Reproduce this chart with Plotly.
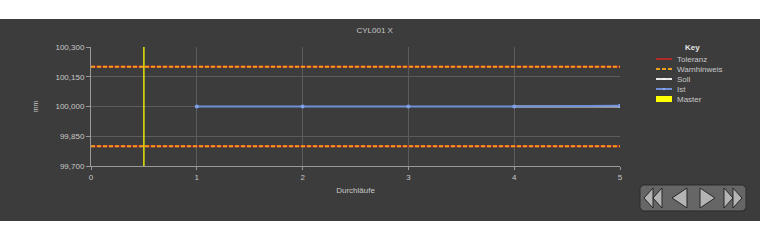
import plotly.graph_objects as go

# ---- data ----
runs = [1, 2, 3, 4, 5]
ist = [100.000, 100.000, 100.000, 100.000, 100.004]
soll_x = [4, 5]
soll = [100.000, 100.000]
tol_upper = 100.200
tol_lower = 99.800
warn_upper = 100.200
warn_lower = 99.800
master_x = 0.5
x_range = [0, 5]
y_range = [99.700, 100.300]
y_ticks = [99.700, 99.850, 100.000, 100.150, 100.300]
x_ticks = [0, 1, 2, 3, 4, 5]
legend_names = ["Toleranz", "Warnhinweis", "Soll", "Ist", "Master"]

BG = "#3c3c3c"
GRID = "#5c5c5c"
TXT = "#c8c8c8"
FONT = "Liberation Sans, Arial, sans-serif"

C_TOL = "#b02828"
C_WARN = "#f0a020"
C_SOLL = "#e8e8e8"
C_IST = "#6f8fd8"
C_MASTER = "#ffff00"

W, H = 760, 240
L, R, T, B = 91, 620, 47, 166  # plot area pixel bounds


def px(x):
    return (x - L) / (R - L)


def py(y):
    return (B - y) / (B - T)


fig = go.Figure()

fig.add_trace(go.Scatter(
    x=[x_range[0], x_range[1], None, x_range[0], x_range[1]],
    y=[tol_upper, tol_upper, None, tol_lower, tol_lower],
    mode="lines", line=dict(color=C_TOL, width=2), name="Toleranz"))
fig.add_trace(go.Scatter(
    x=[x_range[0], x_range[1], None, x_range[0], x_range[1]],
    y=[warn_upper, warn_upper, None, warn_lower, warn_lower],
    mode="lines", line=dict(color=C_WARN, width=2, dash="4px,2px"), name="Warnhinweis"))
fig.add_trace(go.Scatter(
    x=soll_x, y=soll, mode="lines+markers",
    line=dict(color=C_SOLL, width=2), marker=dict(color="#ffffff", size=3), name="Soll"))
fig.add_trace(go.Scatter(
    x=runs, y=ist, mode="lines+markers",
    line=dict(color=C_IST, width=2), marker=dict(color="#7fa0e8", size=4), name="Ist"))
fig.add_trace(go.Scatter(
    x=[master_x, master_x], y=y_range, mode="lines",
    line=dict(color=C_MASTER, width=1.3), name="Master"))

shapes = []
annotations = []
# white bands top and bottom
shapes.append(dict(type="rect", xref="paper", yref="paper",
                   x0=px(0), x1=px(W), y0=py(0), y1=py(19),
                   fillcolor="white", line=dict(width=0), layer="above"))
shapes.append(dict(type="rect", xref="paper", yref="paper",
                   x0=px(0), x1=px(W), y0=py(221), y1=py(H),
                   fillcolor="white", line=dict(width=0), layer="above"))

# ---- key (legend) ----
annotations.append(dict(xref="paper", yref="paper", x=px(692), y=py(47),
                        text="<b>Key</b>", showarrow=False, xanchor="center", yanchor="middle",
                        font=dict(size=8, color="#e6e6e6", family=FONT)))
leg_styles = [
    dict(color=C_TOL, width=2),
    dict(color=C_WARN, width=2, dash="4px,2px"),
    dict(color=C_SOLL, width=2),
    dict(color=C_IST, width=2),
]
for i, name in enumerate(legend_names):
    yy = 59 + 10 * i
    if name == "Master":
        shapes.append(dict(type="rect", xref="paper", yref="paper",
                           x0=px(656), x1=px(672), y0=py(yy + 3), y1=py(yy - 3),
                           fillcolor=C_MASTER, line=dict(width=0), layer="above"))
    else:
        shapes.append(dict(type="line", xref="paper", yref="paper",
                           x0=px(656), x1=px(672), y0=py(yy), y1=py(yy),
                           line=leg_styles[i], layer="above"))
        if name in ("Soll", "Ist"):
            shapes.append(dict(type="circle", xref="paper", yref="paper",
                               x0=px(663), x1=px(665), y0=py(yy + 1), y1=py(yy - 1),
                               fillcolor="#ffffff" if name == "Soll" else "#9ab4f0",
                               line=dict(width=0), layer="above"))
    annotations.append(dict(xref="paper", yref="paper", x=px(675), y=py(yy),
                            text=name, showarrow=False, xanchor="left", yanchor="middle",
                            font=dict(size=8, color=TXT, family=FONT)))


def path(pts):
    return "M " + " L ".join(f"{px(a):.5f},{py(b):.5f}" for a, b in pts) + " Z"


# navigation buttons panel
shapes.append(dict(type="path", xref="paper", yref="paper",
                   path=path([(643, 185), (743, 185), (746, 188), (746, 208), (743, 211),
                              (643, 211), (640, 208), (640, 188)]),
                   fillcolor="#666666", line=dict(color="#2a2a2a", width=1), layer="above"))
tri_fill = "#b4b4b4"
tri_line = dict(color="#262626", width=1)
for dx in (0, 9):
    shapes.append(dict(type="path", xref="paper", yref="paper",
                       path=path([(644 + dx + 9, 188), (644 + dx, 198), (644 + dx + 9, 208)]),
                       fillcolor=tri_fill, line=tri_line, layer="above"))
shapes.append(dict(type="path", xref="paper", yref="paper",
                   path=path([(687, 188), (672, 198), (687, 208)]),
                   fillcolor=tri_fill, line=tri_line, layer="above"))
shapes.append(dict(type="path", xref="paper", yref="paper",
                   path=path([(700, 188), (715, 198), (700, 208)]),
                   fillcolor=tri_fill, line=tri_line, layer="above"))
for dx in (0, 9):
    shapes.append(dict(type="path", xref="paper", yref="paper",
                       path=path([(724 + dx, 188), (724 + dx + 9, 198), (724 + dx, 208)]),
                       fillcolor=tri_fill, line=tri_line, layer="above"))

fig.update_layout(
    width=W, height=H,
    margin=dict(l=L, r=W - R, t=T, b=H - B, pad=0),
    paper_bgcolor=BG, plot_bgcolor=BG,
    separators=",.",
    font=dict(family=FONT, size=8, color=TXT),
    title=dict(text="CYL001 X", x=0.493, xanchor="center", y=1 - 30 / H, yanchor="middle",
               font=dict(size=8, color=TXT)),
    showlegend=False,
    shapes=shapes,
    annotations=annotations,
    xaxis=dict(range=x_range, tickvals=x_ticks, showgrid=True, gridcolor=GRID, gridwidth=1,
               zeroline=False, showline=True, linecolor="#9a9a9a", linewidth=1,
               ticks="outside", ticklen=3, tickcolor="#9a9a9a",
               tickfont=dict(size=8, color=TXT),
               title=dict(text="Durchläufe", standoff=6, font=dict(size=8, color=TXT))),
    yaxis=dict(range=y_range, tickvals=y_ticks, tickformat=".3f", showgrid=True,
               gridcolor=GRID, gridwidth=1, zeroline=False, showline=True,
               linecolor="#9a9a9a", linewidth=1, ticks="outside", ticklen=4,
               tickcolor="#9a9a9a", tickfont=dict(size=8, color=TXT),
               title=dict(text="mm", standoff=16, font=dict(size=7, color=TXT))),
)

fig.write_html("out.html")
